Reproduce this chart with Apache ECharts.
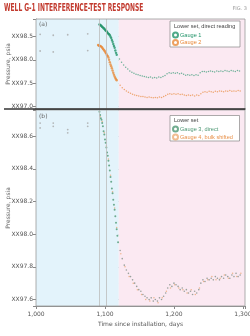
<!DOCTYPE html>
<html><head><meta charset="utf-8">
<script src="https://cdn.jsdelivr.net/npm/echarts@6.0.0/dist/echarts.min.js"></script>
<style>html,body{margin:0;padding:0;background:#fff}#c{width:250px;height:336px}</style>
</head><body><div id="c"></div><script>
// ---- data ----
const xRange = [1000, 1303];
const shadeEdges = [1000, 1120, 1303];
const eventDays = [1091, 1102];
const topRange = [96.94, 98.88];
const botRange = [97.56, 98.76];
const yTitle = 'Pressure, psia';
const xTitle = 'Time since installation, days';

const g1Early = [[1006,98.55],[1025,98.53],[1046,98.54],[1075,98.56]];
const g2Early = [[1006,98.19],[1025,98.17],[1075,98.20]];
const g1Dense = [[1092,98.76],[1093,98.75],[1094,98.74],[1095,98.73],[1096,98.71],[1097,98.70],[1098,98.68],[1099,98.67],[1100,98.65],[1101,98.63],[1102,98.62],[1103,98.60],[1104,98.58],[1105,98.56],[1106,98.55],[1107,98.53],[1108,98.50],[1109,98.47],[1110,98.43],[1111,98.39],[1112,98.34],[1113,98.30],[1114,98.26],[1115,98.20],[1116,98.15],[1117,98.11]];
const g1Tail = [[1121,98.02],[1124,97.95],[1127,97.89],[1130,97.84],[1133,97.80],[1136,97.76],[1139,97.73],[1142,97.71],[1145,97.69],[1148,97.68],[1151,97.66],[1154,97.65],[1157,97.64],[1160,97.63],[1163,97.62],[1166,97.63],[1169,97.61],[1172,97.62],[1175,97.61],[1178,97.63],[1181,97.62],[1184,97.64],[1187,97.66],[1190,97.70],[1193,97.72],[1196,97.71],[1199,97.72],[1202,97.71],[1205,97.72],[1208,97.70],[1211,97.71],[1214,97.69],[1217,97.67],[1220,97.68],[1223,97.67],[1226,97.68],[1229,97.66],[1232,97.68],[1235,97.67],[1238,97.72],[1241,97.75],[1244,97.75],[1247,97.74],[1250,97.75],[1253,97.76],[1256,97.75],[1259,97.74],[1262,97.76],[1265,97.75],[1268,97.76],[1271,97.75],[1274,97.77],[1277,97.76],[1280,97.75],[1283,97.77],[1286,97.76],[1289,97.75],[1292,97.77],[1295,97.76]];
const g2Dense = [[1090,98.32],[1091,98.31],[1092,98.30],[1093,98.30],[1094,98.29],[1095,98.28],[1096,98.26],[1097,98.24],[1098,98.22],[1099,98.20],[1100,98.18],[1101,98.15],[1102,98.13],[1103,98.10],[1104,98.08],[1105,98.05],[1106,98.00],[1107,97.95],[1108,97.90],[1109,97.86],[1110,97.82],[1111,97.77],[1112,97.72],[1113,97.68],[1114,97.64],[1115,97.61],[1116,97.58],[1117,97.56]];
const g2Tail = [[1122,97.45],[1125,97.40],[1128,97.36],[1131,97.33],[1134,97.30],[1137,97.28],[1140,97.26],[1143,97.24],[1146,97.23],[1149,97.22],[1152,97.21],[1155,97.21],[1158,97.20],[1161,97.19],[1164,97.20],[1167,97.19],[1170,97.18],[1173,97.19],[1176,97.18],[1179,97.20],[1182,97.19],[1185,97.21],[1188,97.23],[1191,97.26],[1194,97.27],[1197,97.26],[1200,97.27],[1203,97.26],[1206,97.27],[1209,97.25],[1212,97.26],[1215,97.24],[1218,97.23],[1221,97.24],[1224,97.23],[1227,97.24],[1230,97.22],[1233,97.24],[1236,97.23],[1239,97.27],[1242,97.30],[1245,97.31],[1248,97.30],[1251,97.32],[1254,97.31],[1257,97.30],[1260,97.32],[1263,97.31],[1266,97.33],[1269,97.32],[1272,97.31],[1275,97.33],[1278,97.32],[1281,97.34],[1284,97.32],[1287,97.33],[1290,97.32],[1293,97.34],[1296,97.33]];

const g3Early = [[1006,98.68],[1006,98.65],[1025,98.68],[1025,98.66],[1046,98.64],[1046,98.62],[1075,98.68],[1075,98.66]];
const g3Dense = [[1092,98.75],[1093,98.73],[1094,98.71],[1095,98.70],[1096,98.68],[1097,98.66],[1098,98.63],[1099,98.61],[1100,98.58],[1101,98.56],[1102,98.53],[1103,98.50],[1104,98.48],[1105,98.45],[1106,98.42],[1107,98.39],[1108,98.35],[1109,98.32],[1110,98.28],[1111,98.25],[1112,98.21],[1113,98.18],[1114,98.15],[1115,98.11],[1116,98.07],[1117,98.03],[1118,97.99],[1119,97.95]];
const g3Tail = [[1122,97.90],[1125,97.85],[1128,97.81],[1131,97.78],[1134,97.76],[1137,97.74],[1140,97.72],[1143,97.70],[1146,97.68],[1149,97.66],[1152,97.65],[1155,97.63],[1158,97.62],[1161,97.61],[1164,97.60],[1167,97.61],[1170,97.59],[1173,97.60],[1176,97.59],[1179,97.61],[1182,97.60],[1185,97.62],[1188,97.64],[1191,97.67],[1194,97.69],[1197,97.68],[1200,97.70],[1203,97.69],[1206,97.68],[1209,97.66],[1212,97.67],[1215,97.65],[1218,97.66],[1221,97.64],[1224,97.65],[1227,97.63],[1230,97.65],[1233,97.64],[1236,97.66],[1239,97.70],[1242,97.72],[1245,97.71],[1248,97.73],[1251,97.72],[1254,97.73],[1257,97.72],[1260,97.74],[1263,97.73],[1266,97.72],[1269,97.74],[1272,97.73],[1275,97.75],[1278,97.74],[1281,97.73],[1284,97.75],[1287,97.74],[1290,97.76],[1293,97.74],[1296,97.75]];
const g4Data = [[1093,98.72],[1096,98.69],[1099,98.62],[1102,98.54],[1105,98.46],[1108,98.36],[1111,98.26],[1114,98.16],[1117,98.04],[1123,97.88],[1129,97.80],[1135,97.74],[1141,97.70],[1147,97.66],[1153,97.63],[1159,97.60],[1165,97.59],[1171,97.61],[1177,97.58],[1183,97.61],[1189,97.65],[1195,97.67],[1201,97.69],[1207,97.67],[1213,97.66],[1219,97.64],[1225,97.66],[1231,97.63],[1237,97.67],[1243,97.71],[1249,97.72],[1255,97.74],[1261,97.72],[1267,97.73],[1273,97.75],[1279,97.73],[1285,97.76],[1291,97.74],[1297,97.76]];

// ---- style ----
const FONT = 'DejaVu Sans';
const LFONT = '"Liberation Sans", Arial, sans-serif';
const L = 36, R = 245, T0 = 19, B0 = 109, T1 = 110, B1 = 306;
const BLUE = '#e3f3fb', PINK = '#fbe9f2';
const C1 = '#23946a', C2 = '#e8893a', C3 = '#4d9874', C4 = '#e8914a';
const lab = {fontSize:6, color:'#555', fontFamily:FONT};
const minorLine = {show:true, lineStyle:{color:'rgba(140,110,130,0.12)', width:0.6}};

function shade(){
  return {silent:true, data:[
    [{xAxis:shadeEdges[0], itemStyle:{color:BLUE}},{xAxis:shadeEdges[1]}],
    [{xAxis:shadeEdges[1], itemStyle:{color:PINK}},{xAxis:shadeEdges[2]}]
  ]};
}
function vlines(){
  return {silent:true, symbol:'none', label:{show:false},
    lineStyle:{color:'#bdbdbd', width:0.8, type:'solid'},
    data: eventDays.map(d=>({xAxis:d}))};
}
function xFmt(v){ return Math.abs(v % 100) < 1e-6 ? v.toLocaleString('en-US') : ''; }
function yFmt(step){ return v => { const k = v/step; return Math.abs(k-Math.round(k))<1e-6 ? 'XX'+v.toFixed(1) : ''; }; }

const chart = echarts.init(document.getElementById('c'), null, {renderer:'canvas'});
chart.setOption({
  animation:false,
  backgroundColor:'#fff',
  grid:[
    {left:L, right:250-R, top:T0, height:B0-T0, containLabel:false, outerBoundsMode:'none'},
    {left:L, right:250-R, top:T1, height:B1-T1, containLabel:false, outerBoundsMode:'none'}
  ],
  xAxis:[
    {gridIndex:0, type:'value', min:xRange[0], max:xRange[1], splitNumber:3,
     axisLabel:{show:false}, axisTick:{show:false},
     axisLine:{lineStyle:{color:'#333', width:1.6}},
     splitLine:{show:false}, minorTick:{show:false, splitNumber:5}, minorSplitLine:minorLine},
    {gridIndex:1, type:'value', min:xRange[0], max:xRange[1], splitNumber:3,
     axisLabel:Object.assign({formatter:xFmt, margin:5}, lab),
     axisTick:{show:true, length:3, lineStyle:{color:'#888'}},
     axisLine:{lineStyle:{color:'#888', width:0.8}},
     splitLine:{show:false}, minorTick:{show:false, splitNumber:5}, minorSplitLine:minorLine,
     name:xTitle, nameLocation:'middle', nameGap:15,
     nameTextStyle:{fontSize:6, color:'#555', fontFamily:FONT}}
  ],
  yAxis:[
    {gridIndex:0, type:'value', min:topRange[0], max:topRange[1], splitNumber:4,
     axisLabel:Object.assign({formatter:yFmt(0.5), margin:3}, lab),
     axisTick:{show:true, length:3, lineStyle:{color:'#888'}},
     axisLine:{show:true, lineStyle:{color:'#888', width:0.8}},
     splitLine:{show:true, lineStyle:{color:'#9a9a9a', width:0.8}},
     minorTick:{show:false, splitNumber:5}, minorSplitLine:minorLine},
    {gridIndex:1, type:'value', min:botRange[0], max:botRange[1], splitNumber:6,
     axisLabel:Object.assign({formatter:yFmt(0.2), margin:3}, lab),
     axisTick:{show:true, length:3, lineStyle:{color:'#888'}},
     axisLine:{show:true, lineStyle:{color:'#888', width:0.8}},
     splitLine:{show:true, lineStyle:{color:'#9a9a9a', width:0.8}},
     minorTick:{show:false, splitNumber:2}, minorSplitLine:minorLine}
  ],
  legend:[
    {data:[{name:'Gauge 1', textStyle:{color:C1}},{name:'Gauge 2', textStyle:{color:C2}}],
     orient:'vertical', left:172, top:31.5, itemWidth:5, itemHeight:5, itemGap:0.5, padding:0,
     icon:'emptyCircle', textStyle:{fontSize:5.6, fontFamily:LFONT, padding:[0,0,0,-3]}, z:10},
    {data:[{name:'Gauge 3, direct', textStyle:{color:C3}},{name:'Gauge 4, bulk shifted', textStyle:{color:C4}}],
     orient:'vertical', left:172, top:125.5, itemWidth:5, itemHeight:5, itemGap:1, padding:0,
     icon:'emptyCircle', textStyle:{fontSize:5.6, fontFamily:LFONT, padding:[0,0,0,-3]}, z:10}
  ],
  graphic:[
    {type:'text', x:4, y:3, scaleX:0.6, z:10, style:{text:'WELL G-1 INTERFERENCE-TEST RESPONSE', fill:'#c23a2e',
      font:'bold 11px "DejaVu Sans Condensed", "DejaVu Sans"'}},
    {type:'text', x:247, y:6, z:10, style:{text:'FIG. 3', fill:'#999', align:'right', font:'5px "DejaVu Sans"'}},
    {type:'text', x:8, y:(T0+B0)/2, rotation:Math.PI/2, z:10, style:{text:yTitle, fill:'#666', align:'center', verticalAlign:'middle', font:'6px "DejaVu Sans"'}},
    {type:'text', x:8, y:(T1+B1)/2, rotation:Math.PI/2, z:10, style:{text:yTitle, fill:'#666', align:'center', verticalAlign:'middle', font:'6px "DejaVu Sans"'}},
    {type:'rect', z:9, shape:{x:L, y:T0, width:R-L, height:B0-T0}, style:{fill:null, stroke:'#9a9a9a', lineWidth:0.8}},
    {type:'rect', z:9, shape:{x:L, y:T1, width:R-L, height:B1-T1}, style:{fill:null, stroke:'#9a9a9a', lineWidth:0.8}},
    {type:'line', z:11, shape:{x1:4, y1:B0, x2:R, y2:B0}, style:{stroke:'#333', lineWidth:1.6}},
    {type:'text', x:L+3, y:T0+2, z:10, style:{text:'(a)', fill:'#666', font:'6px "DejaVu Sans"'}},
    {type:'text', x:L+3, y:T1+3, z:10, style:{text:'(b)', fill:'#666', font:'6px "DejaVu Sans"'}},
    {type:'rect', z:9, shape:{x:170, y:21, width:70, height:26}, style:{fill:'#fff', stroke:'#888', lineWidth:0.7}},
    {type:'text', x:174, y:23, z:10, style:{text:'Lower set, direct reading', fill:'#444', font:'5.6px "Liberation Sans", Arial, sans-serif'}},
    {type:'rect', z:9, shape:{x:170, y:115.5, width:69.5, height:25.5}, style:{fill:'#fff', stroke:'#888', lineWidth:0.7}},
    {type:'text', x:174, y:117, z:10, style:{text:'Lower set', fill:'#444', font:'5.6px "Liberation Sans", Arial, sans-serif'}}
  ],
  series:[
    {type:'scatter', xAxisIndex:0, yAxisIndex:0, data:g1Early.concat(g2Early), symbolSize:1.8,
     itemStyle:{color:'#a8a8a8'}, markArea:shade(), markLine:vlines(), z:2},
    {name:'Gauge 1', type:'scatter', xAxisIndex:0, yAxisIndex:0, data:g1Dense, symbolSize:2.4, itemStyle:{color:C1}, z:3},
    {name:'Gauge 1', type:'scatter', xAxisIndex:0, yAxisIndex:0, data:g1Tail, symbolSize:1.5, itemStyle:{color:C1, opacity:0.65}, z:3},
    {name:'Gauge 2', type:'scatter', xAxisIndex:0, yAxisIndex:0, data:g2Dense, symbolSize:2.4, itemStyle:{color:C2}, z:3},
    {name:'Gauge 2', type:'scatter', xAxisIndex:0, yAxisIndex:0, data:g2Tail, symbolSize:1.5, itemStyle:{color:C2, opacity:0.7}, z:3},
    {type:'scatter', xAxisIndex:1, yAxisIndex:1, data:g3Early, symbolSize:1.8,
     itemStyle:{color:'#a8a8a8'}, markArea:shade(), markLine:vlines(), z:2},
    {name:'Gauge 4, bulk shifted', type:'scatter', xAxisIndex:1, yAxisIndex:1, data:g4Data, symbolSize:1.5, itemStyle:{color:C4, opacity:0.6}, z:3},
    {name:'Gauge 3, direct', type:'scatter', xAxisIndex:1, yAxisIndex:1, data:g3Dense, symbolSize:2, itemStyle:{color:C3}, z:4},
    {name:'Gauge 3, direct', type:'scatter', xAxisIndex:1, yAxisIndex:1, data:g3Tail, symbolSize:1.6, itemStyle:{color:'#7f8f86', opacity:0.8}, z:4}
  ]
});
</script></body></html>
